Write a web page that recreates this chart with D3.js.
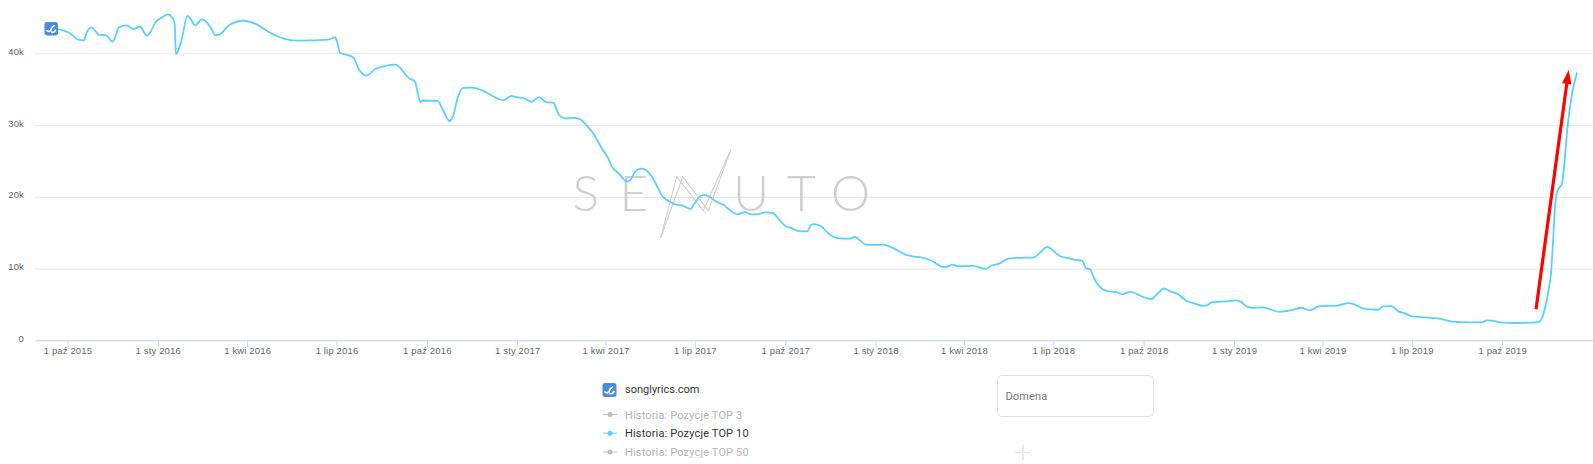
<!DOCTYPE html>
<html>
<head>
<meta charset="utf-8">
<script src="https://cdn.jsdelivr.net/npm/d3@7"></script>
<style>
  html, body { margin: 0; padding: 0; background: #fff; overflow: hidden; }
  svg { display: block; font-family: Roboto, sans-serif; }
  .tick text { fill: #666; font-size: 9.5px; letter-spacing: 0.15px; }
</style>
</head>
<body>
<svg id="chart" width="1593" height="464"></svg>
<script>
// days counted from 1 paz 2015
const dayOffsets = [
  -17, -10, -3.5, 1.7, 6.9, 11, 17, 19.6, 24.8, 29.3, 31.7, 39.6, 45.8, 48.2, 52.3, 60.3, 67.1, 74, 80.9, 84.4,
  89.5, 96.4, 102.3, 106.7, 109.2, 110.5, 113.6, 117, 122.2, 125.7, 130.2, 136.7, 142.9, 147, 150.5, 155, 165.3, 179,
  192.8, 206.6, 220.4, 234.2, 248, 265.2, 272.8, 275.5, 277.6, 282.4, 291, 296.8, 304.8, 313.4, 323.7, 334, 347.8,
  354, 357.5, 359.5, 361.6, 377, 382.3, 389.1, 392.6, 397.8, 402.9, 411.5, 423.6, 433.9, 444.3, 452, 457.5, 464.9,
  472.8, 480.2, 487.3, 494.8, 498.2, 500.6, 507.4, 516.9, 522.7, 528.8, 535.6, 544.1, 550.9, 554.3, 561.7, 569.5, 573,
  578, 584.7, 589.8, 595, 600.1, 606, 612.2, 619.1, 626, 631.1, 634.6, 638, 643.2, 648.4, 653.5, 660.4, 669, 675.9,
  681.8, 686.3, 689.7, 696.6, 701.7, 710.4, 718.3, 724.1, 731, 737.9, 744.8, 753.4, 756.9, 759.6, 767.2, 774.1, 782.7,
  789.6, 796.5, 802.3, 806.8, 813.7, 820.6, 830.9, 839.5, 853.3, 860.2, 870.5, 879.1, 892.9, 896.3, 901.5, 906.7,
  922.2, 935.3, 941.1, 948, 958.3, 966.9, 984.2, 989.3, 997.9, 1001.4, 1011, 1019.6, 1026.5, 1033.4, 1036.9, 1041.4,
  1045.5, 1049, 1054.2, 1059.4, 1068, 1073.9, 1081.9, 1088.8, 1097.5, 1103.7, 1109.6, 1116.5, 1123.4, 1130.3, 1139,
  1149.4, 1156.3, 1160.5, 1165, 1171.9, 1180.5, 1189.2, 1194.4, 1200.6, 1206.5, 1216.9, 1225.5, 1234.2, 1239.4, 1246.3,
  1256.7, 1264.7, 1275.7, 1291.3, 1305.2, 1312.1, 1319, 1334.6, 1339.8, 1348.4, 1355.4, 1362.3, 1369.2, 1383.1, 1400.4,
  1410.8, 1426.3, 1440.2, 1445.4, 1450.6, 1461, 1474.8, 1490.4, 1498.1, 1501.5, 1504.9, 1508.3, 1510.7, 1512.7, 1515.1,
  1517.5, 1521.9, 1524.3, 1527.7, 1532.1, 1537.2
];
const top10Values = [
  43400, 43380, 43150, 42870, 42300, 41900, 41800, 42900, 43570, 43000, 42600, 42500, 41620, 42080, 43600, 43900, 43380, 43700, 42450, 42900,
  44260, 45000, 45420, 45000, 44170, 39860, 40700, 42300, 45230, 44720, 43900, 44720, 44170, 43330, 42500, 42640, 43980, 44540,
  44030, 42870, 42040, 41760, 41800, 41900, 42220, 41160, 40090, 39860, 39440, 37780, 36900, 37820, 38240, 38430, 36530,
  36060, 33980, 33190, 33420, 33380, 32130, 30550, 31200, 33980, 35180, 35230, 34770, 33980, 33470, 34080, 33890, 33750,
  33240, 33900, 33200, 33100, 32170, 31380, 30910, 31000, 30770, 29930, 28820, 26720, 25320, 24250, 23230, 22150, 22300,
  23460, 23940, 23660, 22820, 21570, 20050, 19400, 18930, 18800, 18470, 18290, 18930, 19950, 20280, 20050, 19350, 18800, 18010,
  17550, 17730, 17870, 17550, 17550, 17820, 17730, 16940, 15930, 15600, 15230, 15180, 16020, 16200, 15930, 15000, 14260,
  14170, 14170, 14400, 13930, 13330, 13290, 13330, 12960, 11940, 11710, 11530, 11160, 10180, 10280, 10560, 10320,
  10370, 9950, 10420, 10650, 11390, 11480, 11570, 12080, 13010, 12780, 11710, 11440, 11200, 11110, 10090, 9910,
  8610, 7820, 7130, 6850, 6710, 6390, 6760, 6480, 5930, 5740, 6430, 7220, 6800, 6480, 5560,
  5050, 4810, 4860, 5280, 5370, 5420, 5560, 5420, 4720, 4540, 4580, 4260, 3980, 4030, 4210,
  4540, 4170, 4770, 4810, 5180, 4910, 4440, 4260, 4720, 4770, 4030, 3750, 3330, 3190, 2920,
  2590, 2500, 2500, 2780, 2730, 2450, 2410, 2450, 2550, 3060, 4680, 7000, 9300, 13470, 19030,
  20880, 21800, 24590, 29910, 34310, 37320
];

const xTickDates = ["2015-10-01","2016-01-01","2016-04-01","2016-07-01","2016-10-01","2017-01-01","2017-04-01","2017-07-01","2017-10-01","2018-01-01","2018-04-01","2018-07-01","2018-10-01","2019-01-01","2019-04-01","2019-07-01","2019-10-01"];
const xTickLabels = ["1 paź 2015","1 sty 2016","1 kwi 2016","1 lip 2016","1 paź 2016","1 sty 2017","1 kwi 2017","1 lip 2017","1 paź 2017","1 sty 2018","1 kwi 2018","1 lip 2018","1 paź 2018","1 sty 2019","1 kwi 2019","1 lip 2019","1 paź 2019"];
const yTickValues = [0, 10000, 20000, 30000, 40000];
const yTickLabels = ["0", "10k", "20k", "30k", "40k"];
const legendLabels = ["Historia: Pozycje TOP 3", "Historia: Pozycje TOP 10", "Historia: Pozycje TOP 50"];
const legendActive = [false, true, false];

// red arrow painted over the screenshot, [day, value]
const arrowFrom = [1495.5, 4320];
const arrowTo = [1528.7, 37670];

const lineColor = "#5ccfff";
const dayMs = 864e5;
const firstDay = Date.UTC(2015, 9, 1);
const toDate = (d) => new Date(firstDay + d * dayMs);

const x = d3.scaleUtc()
  .domain([new Date("2015-08-29"), new Date("2020-01-01")])
  .range([35, 1592.5]);
const y = d3.scaleLinear().domain([0, 40000]).range([340.3, 53.3]);

const svg = d3.select("#chart");

const yAxis = d3.axisLeft(y)
  .tickValues(yTickValues)
  .tickSize(-1558)
  .tickPadding(11)
  .tickFormat((d, i) => yTickLabels[i]);

svg.append("g")
  .attr("transform", "translate(35,0)")
  .call(yAxis)
  .call((g) => g.select(".domain").remove())
  .call((g) => g.selectAll(".tick line").attr("stroke", "#e8e8e8"))
  .call((g) => g.selectAll(".tick text").attr("dy", "0.1em"));

// watermark
const mark = svg.append("g").attr("fill", "#cfcfcf");
[["S", 572.5], ["E", 619.5], ["U", 733], ["T", 787], ["O", 831]].forEach(([c, px]) => {
  mark.append("text")
    .attr("x", px).attr("y", 211)
    .attr("font-family", "Lato").attr("font-weight", 300).attr("font-size", 49.5)
    .text(c);
});
const zig = d3.line();
[[[660.7, 237.7], [676.7, 176.7], [703.3, 210.7], [731, 149.3]],
 [[660.7, 237.7], [682.7, 176.7], [708.3, 210.7], [731, 149.3]]].forEach((pts) => {
  svg.append("path").attr("d", zig(pts)).attr("fill", "none").attr("stroke", "#cfcfcf").attr("stroke-width", 1.1);
});

// x axis
const xAxis = d3.axisBottom(x)
  .tickValues(xTickDates.map((d) => new Date(d)))
  .tickSize(7)
  .tickSizeOuter(0)
  .tickPadding(0)
  .tickFormat((d, i) => xTickLabels[i]);

svg.append("g")
  .attr("transform", "translate(0,340.3)")
  .call(xAxis)
  .call((g) => g.select(".domain").attr("stroke", "#ccd6eb"))
  .call((g) => g.selectAll(".tick line").attr("stroke", "#ccd6eb"))
  .call((g) => g.selectAll(".tick text").attr("dy", "0.75em"));

// series
const line = d3.line()
  .x((d) => x(toDate(d[0])))
  .y((d) => y(d[1]))
  .curve(d3.curveMonotoneX);

svg.append("path")
  .datum(d3.zip(dayOffsets, top10Values))
  .attr("d", line)
  .attr("fill", "none")
  .attr("stroke", lineColor)
  .attr("stroke-width", 1.8);

const drawIcon = (g, px, py, size) => {
  const k = size / 14;
  const icon = g.append("g").attr("transform", `translate(${px},${py}) scale(${k})`);
  icon.append("rect").attr("width", 14).attr("height", 14).attr("rx", 2.5).attr("fill", "#4a8bdc");
  icon.append("path")
    .attr("d", "M2.5 9 Q4.5 11 6.5 8.5 Q7.5 5 10 4 M7.5 10.5 Q10 11.5 11.5 8.5")
    .attr("fill", "none").attr("stroke", "#fff").attr("stroke-width", 1.7).attr("stroke-linecap", "round");
};
drawIcon(svg, 44.5, 22, 13.5);

// arrow
const ax0 = x(toDate(arrowFrom[0])), ay0 = y(arrowFrom[1]);
const ax1 = x(toDate(arrowTo[0])), ay1 = y(arrowTo[1]);
const angle = Math.atan2(ay1 - ay0, ax1 - ax0);
const headLen = 14, headHalf = 4.8;
const bx = ax1 - headLen * Math.cos(angle), by = ay1 - headLen * Math.sin(angle);
svg.append("line")
  .attr("x1", ax0).attr("y1", ay0).attr("x2", bx).attr("y2", by)
  .attr("stroke", "#ff0000").attr("stroke-width", 3.2);
svg.append("path")
  .attr("d", d3.line()([
    [ax1, ay1],
    [bx + headHalf * Math.sin(angle), by - headHalf * Math.cos(angle)],
    [bx - headHalf * Math.sin(angle), by + headHalf * Math.cos(angle)]
  ]))
  .attr("fill", "#ff0000");

// legend
const legend = svg.append("g").attr("font-size", 11).attr("letter-spacing", "0.15px");
drawIcon(legend, 602.5, 383, 14);
legend.append("text").attr("x", 625).attr("y", 392.5).attr("fill", "#333").attr("letter-spacing", 0).text("songlyrics.com");

const rowY = d3.scalePoint().domain(legendLabels).range([414.5, 452]);
legendLabels.forEach((name, i) => {
  const c = legendActive[i] ? lineColor : "#bdbdbd";
  const row = legend.append("g").attr("transform", `translate(0,${rowY(name)})`);
  row.append("line").attr("x1", 603).attr("x2", 617).attr("stroke", c).attr("stroke-width", 1);
  row.append("circle").attr("cx", 610).attr("r", 2.5).attr("fill", c);
  row.append("text").attr("x", 625).attr("y", 4)
    .attr("fill", legendActive[i] ? "#333" : "#b5b5b5")
    .text(name);
});

// domain input + plus
svg.append("rect")
  .attr("x", 997.5).attr("y", 375.5).attr("width", 156).attr("height", 41).attr("rx", 4)
  .attr("fill", "#fff").attr("stroke", "#e0e0e0");
svg.append("text").attr("x", 1005.5).attr("y", 400).attr("font-size", 11).attr("letter-spacing", "0.15px").attr("fill", "#777").text("Domena");
svg.append("path").attr("d", "M1015 452.5H1031M1023 444.5V460.5").attr("stroke", "#e4e4e4").attr("stroke-width", 1.6).attr("fill", "none");
</script>
</body>
</html>
